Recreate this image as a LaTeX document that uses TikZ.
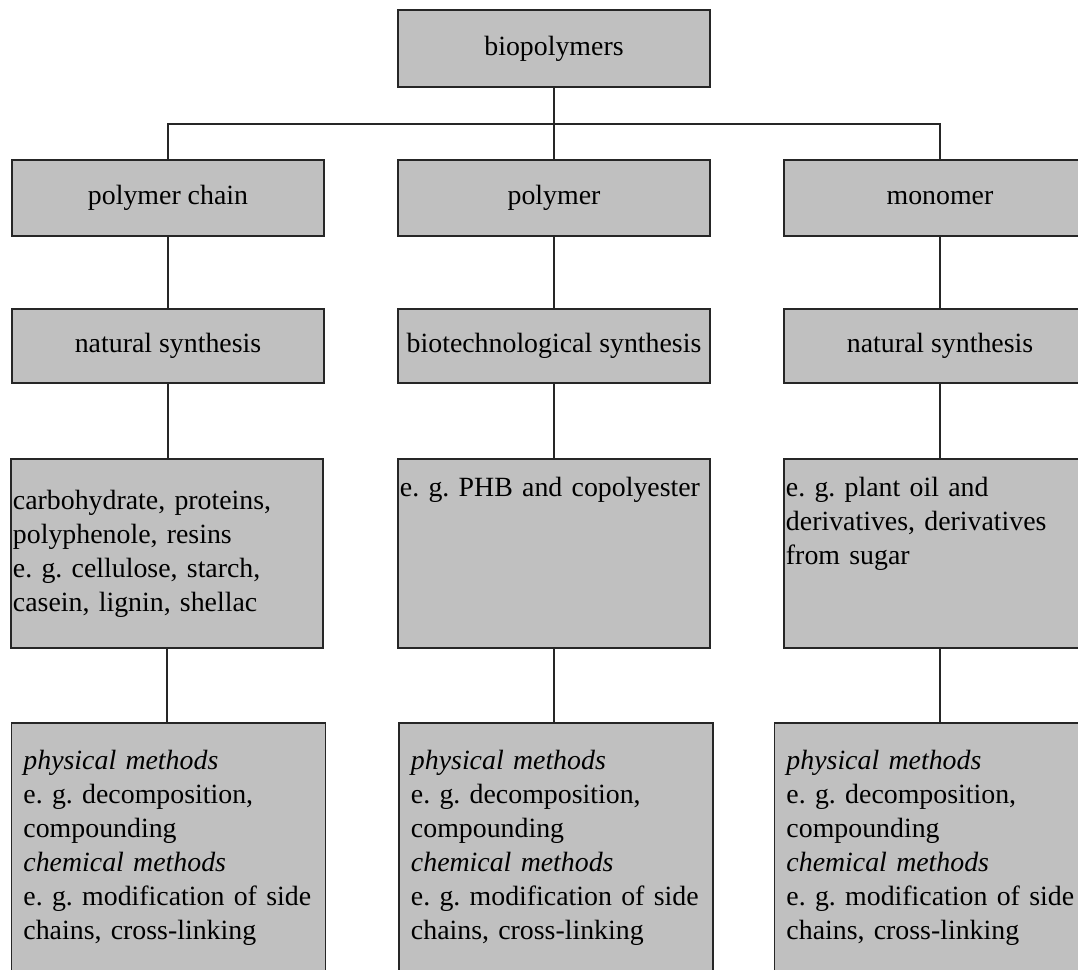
\documentclass[tikz,border=0pt]{standalone}
\usepackage{fontspec}
\setmainfont{Liberation Serif}
\definecolor{boxgray}{RGB}{192,192,192}
\newcommand{\toplines}[1]{\parbox[c][3.825cm][t]{7.7cm}{\raggedright #1}}
\tikzset{
 box/.style={draw=black!85, fill=boxgray, line width=1.2pt, minimum width=7.8cm,
   inner sep=0pt, font=\fontsize{19.8}{24.2}\selectfont\frenchspacing},
 head/.style={box, minimum height=1.9cm},
 listbox/.style={box, align=left, text width=7.7cm, inner xsep=0.05cm, minimum height=4.725cm},
 listtop/.style={listbox, inner ysep=0.45cm},
 methbox/.style={box, align=left, text width=7.25cm, inner xsep=0.3cm, minimum height=6.225cm},
 link/.style={draw=black!85, line width=1.2pt},
}

\begin{document}
\begin{tikzpicture}[x=0.025cm, y=-0.025cm]
    \useasboundingbox (0,0) rectangle (1078,970);
    \clip (0,0) rectangle (1078,970);

    % top of the tree
    \node[head, minimum height=1.925cm] (bio) at (554,48.5) {biopolymers};
    \coordinate (split) at (554,124);

    % second row
    \node[head] (chain) at (168,198) {polymer chain};
    \node[head] (poly)  at (554,198) {polymer};
    \node[head] (mono)  at (940,198) {monomer};

    % synthesis
    \node[head, minimum height=1.85cm] (nat1) at (168,346) {natural synthesis};
    \node[head, minimum height=1.85cm] (biot) at (554,346) {biotechnological synthesis};
    \node[head, minimum height=1.85cm] (nat2) at (940,346) {natural synthesis};

    % examples
    \node[listbox] (ex1) at (167,553.5) {carbohydrate, proteins,\\ polyphenole, resins\\
        e. g. cellulose, starch,\\ casein, lignin, shellac};
    \node[listtop] (ex2) at (554,553.5) {\toplines{e. g. PHB and copolyester}};
    \node[listtop] (ex3) at (940,553.5) {\toplines{e. g. plant oil and\\
        derivatives, derivatives\\ from sugar}};

    % processing methods
    \foreach \x/\name in {168.5/meth1, 556/meth2, 931.5/meth3} {
        \node[methbox] (\name) at (\x,847.5) {\textit{physical methods}\\
            e. g. decomposition,\\ compounding\\ \textit{chemical methods}\\
            e. g. modification of side\\ chains, cross-linking};
    }

    % connectors
    \draw[link] (bio) -- (poly);
    \draw[link] (chain.north) |- (split) -| (mono.north);
    \draw[link] (chain) -- (nat1);
    \draw[link] (poly) -- (biot);
    \draw[link] (mono) -- (nat2);
    \draw[link] (nat1.south) -- (nat1.south |- ex1.north);
    \draw[link] (biot.south) -- (biot.south |- ex2.north);
    \draw[link] (nat2.south) -- (nat2.south |- ex3.north);
    \draw[link] (ex1.south) -- (ex1.south |- meth1.north);
    \draw[link] (ex2.south) -- (ex2.south |- meth2.north);
    \draw[link] (ex3.south) -- (ex3.south |- meth3.north);
\end{tikzpicture}
\end{document}
